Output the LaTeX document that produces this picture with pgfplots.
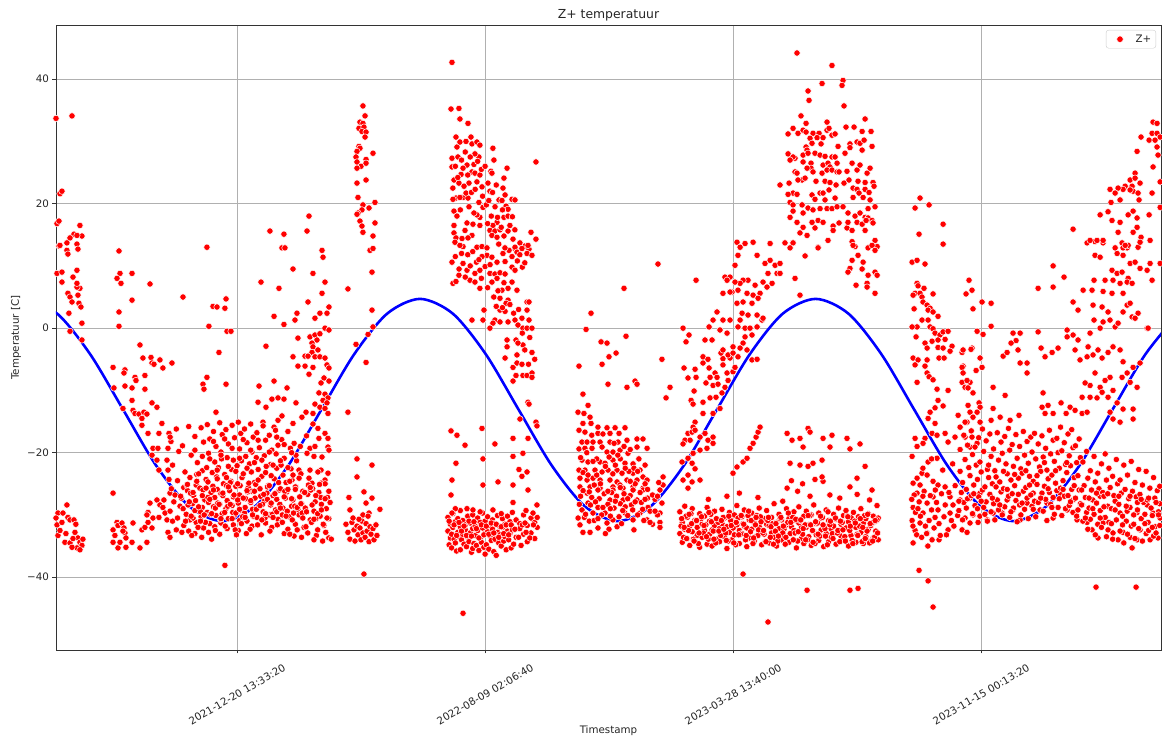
\documentclass[border=0pt]{standalone}
\usepackage{fontspec}
\setmainfont{DejaVu Sans}
\usepackage{pgfplots}
\pgfplotsset{compat=1.18}
\pgfplotsset{
  zp/.style={only marks, mark=*, mark size=3.2pt, mark options={fill=red, draw=white, line width=0.5pt}},
  zplegend/.style={legend image code/.code={\path[draw=none,fill=none] (0cm,-0.1cm) rectangle (0.88cm,0.1cm); \node[draw=white, fill=red, circle, line width=0.5pt, inner sep=0pt, minimum size=6.6pt] at (0.4cm,0cm) {};}}
}
\begin{document}
\begin{tikzpicture}
\begin{axis}[
  width=1105pt, height=625pt, scale only axis,
  xmin=162.54, xmax=171.45, ymin=-51.7, ymax=48.7,
  xtick={164,166,168,170},
  xticklabels={2021-12-20 13:33:20, 2022-08-09 02:06:40, 2023-03-28 13:40:00, 2023-11-15 00:13:20},
  ytick={-40,-20,0,20,40},
  yticklabels={−40,−20,0,20,40},
  tick align=outside, xtick pos=bottom, ytick pos=left,
  major tick length=3.5pt,
  tick style={black!80, line width=0.8pt},
  axis line style={black!80, line width=0.8pt},
  grid=major, major grid style={color=black!31, line width=0.8pt},
  tick label style={font=\fontsize{10.3}{12}\selectfont, text=black!85},
  xticklabel style={yshift=-41pt, rotate=30, anchor=center},
  title={Z+ temperatuur},
  title style={font=\fontsize{12.4}{14}\selectfont, text=black!85, at={(axis description cs:0.5,1)}, anchor=south, yshift=-6pt},
  xlabel={Timestamp},
  xlabel style={font=\fontsize{10.3}{12}\selectfont, text=black!85, at={(axis description cs:0.5,-0.1296)}, anchor=center},
  ylabel={Temperatuur [C]},
  ylabel style={font=\fontsize{10.3}{12}\selectfont, text=black!85, at={(axis description cs:-0.0362,0.5)}, anchor=center},
  legend style={at={(0.9955,0.992)}, anchor=north east, draw=black!20, fill=white, rounded corners=2.5pt,
    font=\fontsize{10.3}{12}\selectfont, text=black!85, inner xsep=2.5pt, inner ysep=2.5pt},
]
\coordinate (sw) at (rel axis cs:0,0);
\coordinate (ne) at (rel axis cs:1,1);
% cluster A
\addplot[zp, zplegend] coordinates {
(162.540,33.7) (162.669,34.1) (162.572,21.6) (162.588,22.0) (162.548,16.8) (162.564,17.2) (162.733,16.5) (162.749,14.8) (162.685,15.1) (162.653,14.5) (162.628,13.7) (162.709,14.9) (162.564,13.2) (162.572,13.3) (162.628,12.5) (162.636,11.9) (162.709,13.5) (162.717,12.7) (162.548,8.8) (162.588,9.0) (162.588,7.4) (162.677,8.2) (162.709,9.3) (162.733,6.4) (162.636,5.6) (162.653,5.0) (162.669,4.2) (162.717,5.3) (162.725,4.0) (162.741,3.4) (162.644,2.4) (162.749,0.8) (162.749,-1.9) (162.653,-0.5) (162.709,6.6) (162.709,7.2)
(162.556,-29.7) (162.596,-29.7) (162.548,-31.6) (162.588,-31.2) (162.628,-28.4) (162.636,-30.4) (162.653,-30.8) (162.685,-30.8) (162.612,-34.4) (162.653,-34.5) (162.693,-32.8) (162.717,-33.7) (162.733,-34.4) (162.749,-34.9) (162.709,-35.3) (162.669,-35.2) (162.733,-35.6) (162.556,-33.3) (162.572,-32.5) (162.620,-33.0) (162.677,-33.8) (162.757,-33.9) (162.540,-30.5) (162.700,-31.5)
};
\addlegendentry{Z+}
% cluster B
\addplot[zp, forget plot] coordinates {
(163.048,12.4) (163.056,8.8) (163.032,8.0) (163.064,7.2) (163.153,8.8) (163.153,4.5) (163.048,2.6) (163.048,0.3) (163.0,-6.3) (163.007,-9.6) (163.096,-6.7) (163.088,-7.2) (163.096,-9.3) (163.080,-12.9) (163.153,-11.6) (163.161,-13.2) (163.177,-7.9) (163.185,-8.4) (163.153,-9.6) (163.217,-2.7) (163.241,-4.8) (163.298,7.1) (163.257,-7.6) (163.257,-9.8) (163.306,-4.7) (163.314,-5.6) (163.330,-5.8) (163.378,-5.1) (163.402,-6.4) (163.475,-5.6) (163.177,-13.7) (163.209,-13.8) (163.233,-14.5) (163.249,-13.5) (163.273,-13.8) (163.314,-12.0) (163.354,-12.7) (163.233,-15.6) (163.282,-16.9) (163.314,-20.4) (163.370,-16.9) (163.394,-15.3) (163.322,-19.3) (163.362,-19.3) (163.354,-21.2) (163.443,-19.3) (163.435,-21.2) (163.451,-16.9) (163.467,-18.2) (163.370,-22.8) (163.451,-24.3) (163.443,-22.8)
(163.0,-26.5) (163.032,-31.2) (163.040,-31.7) (163.0,-32.4) (163.015,-33.3) (163.0,-34.4) (163.040,-35.3) (163.072,-31.3) (163.088,-32.1) (163.096,-32.9) (163.104,-33.7) (163.056,-34.4) (163.104,-35.2) (163.080,-32.6) (163.161,-31.3) (163.153,-34.4) (163.217,-35.3) (163.233,-32.4) (163.257,-32.0) (163.273,-34.4) (163.282,-31.2) (163.314,-32.1) (163.282,-29.6) (163.273,-30.0) (163.298,-28.1) (163.322,-30.5) (163.354,-27.6) (163.378,-28.4) (163.402,-28.8) (163.370,-30.4) (163.419,-29.7) (163.435,-30.8) (163.443,-32.8) (163.459,-33.6) (163.410,-27.6) (163.459,-26.5)
};
% cluster C
\addplot[zp, forget plot] coordinates {
(163.564,5.0) (163.757,13.0) (163.773,0.3) (163.806,3.5) (163.838,3.4) (163.911,4.7) (163.902,3.2) (163.919,-0.5) (163.951,-0.5) (163.854,-3.9) (163.725,-9.0) (163.757,-7.9) (163.733,-9.8) (163.911,-9.0) (163.830,-13.5) (164.193,7.4) (164.338,6.4) (164.362,12.9) (164.386,12.9) (164.451,9.5) (164.612,8.8) (164.685,12.5) (164.693,11.4) (164.685,5.6) (164.709,7.4) (164.572,4.2) (164.483,2.4) (164.467,1.3) (164.298,1.9) (164.378,0.6) (164.628,1.6) (164.668,2.4) (164.725,2.4) (164.741,3.4) (164.709,0.0) (164.741,-0.3) (164.491,-1.6) (164.588,-1.4) (164.628,-1.1) (164.668,-0.9) (164.644,-1.9) (164.604,-2.4) (164.612,-3.0) (164.652,-3.5) (164.604,-3.9) (164.548,-4.5) (164.572,-4.5) (164.628,-4.6) (164.668,-4.6) (164.709,-4.8) (164.451,-4.6) (164.491,-6.1) (164.548,-6.1) (164.612,-6.3) (164.725,-5.9) (164.741,-6.4) (164.233,-2.9) (164.298,-8.5) (164.177,-9.3) (164.403,-9.6) (164.580,-7.4) (164.701,-8.0) (164.741,-8.5) (164.677,-8.8) (164.660,-10.4) (164.709,-10.6) (164.733,-11.2) (164.693,-11.6) (164.725,-12.0) (164.628,-12.2) (164.668,-12.7) (164.709,-12.9) (164.733,-13.7) (164.612,-13.7) (164.556,-13.5) (164.475,-12.0) (164.378,-11.4) (164.330,-11.2) (164.281,-11.4) (164.233,-12.7) (164.169,-11.9) (164.330,-14.8) (164.362,-14.1) (164.209,-15.1) (164.298,-15.9) (164.451,-15.3) (164.523,-14.3) (164.612,-15.4) (164.652,-16.1) (164.709,-16.9) (164.733,-17.7) (164.660,-17.7) (164.588,-19.3) (164.628,-19.0) (164.733,-19.1) (164.741,-19.6) (164.685,-20.7) (164.620,-20.6) (164.564,-20.1) (164.677,-22.8) (164.733,-23.3) (164.709,-24.4) (164.652,-23.1) (164.588,-22.8) (164.604,-24.9) (164.677,-24.9) (164.499,-22.8) (164.443,-24.4) (164.451,-23.6) (164.475,-25.5) (164.265,15.6) (164.378,15.1) (164.564,15.6) (164.580,18.0) (163.902,-38.1)
(163.46,-17.5) (163.48,-22.0) (163.47,-25.8) (163.49,-27.9) (163.46,-29.4) (163.48,-31.0)
(163.51,-16.2) (163.53,-19.8) (163.52,-24.5) (163.50,-26.8) (163.54,-28.6) (163.52,-30.5) (163.51,-32.4)
(163.56,-18.9) (163.58,-23.1) (163.57,-25.6) (163.55,-27.3) (163.59,-29.9) (163.57,-31.7)
(163.61,-15.8) (163.63,-20.4) (163.62,-24.0) (163.60,-26.1) (163.64,-28.2) (163.62,-30.8) (163.61,-32.6)
(163.66,-17.4) (163.68,-21.6) (163.67,-25.2) (163.65,-26.9) (163.69,-29.1) (163.67,-31.2) (163.66,-33.0)
(163.71,-16.0) (163.73,-18.3) (163.72,-22.9) (163.70,-25.7) (163.74,-27.6) (163.72,-28.8) (163.71,-30.3) (163.73,-32.1)
(163.76,-15.5) (163.78,-17.8) (163.77,-20.1) (163.75,-24.3) (163.79,-26.4) (163.77,-28.0) (163.76,-29.6) (163.78,-31.4) (163.77,-32.8)
(163.81,-16.6) (163.83,-19.0) (163.82,-21.5) (163.80,-23.2) (163.84,-25.9) (163.82,-27.2) (163.81,-28.7) (163.83,-30.1) (163.82,-31.9)
(163.86,-15.2) (163.88,-17.1) (163.87,-19.9) (163.85,-22.4) (163.89,-25.0) (163.87,-26.6) (163.86,-28.3) (163.88,-29.8) (163.87,-31.3) (163.86,-33.1)
(163.91,-16.3) (163.93,-18.6) (163.92,-20.8) (163.90,-23.5) (163.94,-26.1) (163.92,-27.7) (163.91,-29.0) (163.93,-30.6) (163.92,-32.2)
(163.96,-15.6) (163.98,-17.6) (163.97,-21.2) (163.95,-24.6) (163.99,-25.4) (163.97,-27.1) (163.96,-28.5) (163.98,-30.0) (163.97,-31.6)
(164.01,-15.1) (164.03,-16.9) (164.02,-19.4) (164.00,-22.1) (164.04,-24.0) (164.02,-26.8) (164.01,-28.1) (164.03,-29.3) (164.02,-30.9) (164.01,-32.5)
(164.06,-16.2) (164.08,-18.4) (164.07,-20.6) (164.05,-23.4) (164.09,-25.6) (164.07,-27.4) (164.06,-29.7) (164.08,-31.0)
(164.11,-15.4) (164.13,-17.5) (164.12,-19.9) (164.10,-21.8) (164.14,-24.8) (164.12,-26.2) (164.11,-28.0) (164.13,-30.2) (164.12,-31.8)
(164.16,-16.8) (164.18,-19.2) (164.17,-22.7) (164.15,-25.1) (164.19,-27.0) (164.17,-28.8) (164.16,-30.4)
(164.21,-15.7) (164.23,-18.0) (164.22,-20.5) (164.20,-23.8) (164.24,-26.5) (164.22,-27.8) (164.21,-29.5) (164.23,-31.3)
(164.26,-17.2) (164.28,-19.6) (164.27,-21.9) (164.25,-25.3) (164.29,-26.9) (164.27,-28.4) (164.26,-30.0) (164.28,-32.0)
(164.31,-16.4) (164.33,-18.8) (164.32,-22.5) (164.30,-24.2) (164.34,-26.0) (164.32,-27.5) (164.31,-29.2) (164.33,-30.7)
(164.36,-17.9) (164.38,-20.9) (164.37,-23.6) (164.35,-25.8) (164.39,-27.3) (164.37,-28.9) (164.36,-31.1) (164.38,-33.0)
(164.41,-16.6) (164.43,-19.3) (164.42,-24.6) (164.40,-26.3) (164.44,-28.6) (164.42,-30.3) (164.41,-32.3)
(164.46,-18.5) (164.48,-21.3) (164.47,-25.5) (164.45,-27.6) (164.49,-29.1) (164.47,-31.5) (164.46,-33.4)
(164.51,-19.0) (164.53,-26.2) (164.52,-28.2) (164.50,-30.0) (164.54,-32.0) (164.52,-33.6)
(164.56,-17.3) (164.58,-24.1) (164.57,-26.7) (164.55,-28.9) (164.59,-30.8) (164.57,-32.9)
(164.61,-25.8) (164.63,-27.9) (164.62,-29.4) (164.60,-31.2) (164.64,-33.3) (164.62,-34.0)
(164.66,-26.4) (164.68,-28.3) (164.67,-30.2) (164.65,-32.4) (164.69,-34.2)
(164.71,-25.0) (164.73,-27.2) (164.72,-29.0) (164.70,-31.7) (164.74,-33.7)
(164.75,-28.0) (164.74,-30.6) (164.76,-33.9)
(163.545,-27.0) (163.565,-29.0) (163.585,-31.0) (163.605,-28.4) (163.625,-26.5) (163.645,-30.5) (163.665,-27.7) (163.685,-32.0) (163.705,-29.5) (163.725,-26.0) (163.745,-31.2) (163.765,-27.2) (163.785,-29.9) (163.805,-25.4) (163.825,-32.5) (163.845,-28.1) (163.865,-30.7) (163.885,-26.9) (163.905,-31.8) (163.925,-28.6) (163.945,-24.8) (163.965,-29.6) (163.985,-32.4) (164.005,-27.6) (164.025,-25.3) (164.045,-30.3) (164.065,-28.8) (164.085,-26.3) (164.105,-32.3) (164.125,-29.1) (164.145,-27.3) (164.165,-31.6) (164.185,-25.8) (164.205,-28.3) (164.225,-30.5) (164.245,-27.5) (164.265,-32.6) (164.285,-29.9) (164.305,-26.6) (164.325,-31.6) (164.345,-28.3) (164.365,-30.0) (164.385,-26.2) (164.405,-29.4) (164.425,-33.1) (164.445,-30.8) (164.465,-28.6) (164.485,-32.4) (164.505,-27.1) (164.525,-29.7)
(163.555,-32.8) (163.595,-25.2) (163.635,-33.3) (163.675,-23.5) (163.715,-33.6) (163.755,-22.4) (163.795,-33.9) (163.835,-23.9) (163.875,-21.0) (163.915,-24.0) (163.955,-22.7) (163.995,-33.2) (164.035,-21.3) (164.075,-33.0) (164.115,-23.1) (164.155,-20.8) (164.195,-33.2) (164.235,-22.2) (164.275,-23.7) (164.315,-20.2) (164.355,-22.0) (164.395,-24.8) (164.435,-22.6) (164.475,-20.4) (164.515,-23.4) (164.555,-31.9) (164.595,-26.0) (164.635,-30.6) (164.675,-27.2) (164.715,-32.8)
(163.600,-25.1) (163.615,-27.9) (163.630,-30.2) (163.645,-26.4) (163.660,-29.3) (163.675,-24.6) (163.690,-28.7) (163.705,-31.0) (163.720,-26.9) (163.735,-30.0) (163.750,-25.7)
(163.765,-24.7) (163.780,-27.5) (163.795,-29.8) (163.810,-26.0) (163.825,-28.9) (163.840,-24.2) (163.855,-28.3) (163.870,-30.6) (163.885,-26.5) (163.900,-29.6) (163.915,-25.3)
(163.930,-25.5) (163.945,-28.3) (163.960,-30.6) (163.975,-26.8) (163.990,-29.7) (164.005,-25.0) (164.020,-29.1) (164.035,-31.4) (164.050,-27.3) (164.065,-30.4) (164.080,-26.1)
(164.095,-24.9) (164.110,-27.7) (164.125,-30.0) (164.140,-26.2) (164.155,-29.1) (164.170,-24.4) (164.185,-28.5) (164.200,-30.8) (164.215,-26.7) (164.230,-29.8) (164.245,-25.5)
(164.260,-25.3) (164.275,-28.1) (164.290,-30.4) (164.305,-26.6) (164.320,-29.5) (164.335,-24.8) (164.350,-28.9) (164.365,-31.2) (164.380,-27.1) (164.395,-30.2) (164.410,-25.9)
(164.425,-24.6) (164.440,-27.4) (164.455,-29.7) (164.470,-25.9) (164.485,-28.8) (164.500,-24.1) (164.515,-28.2) (164.530,-30.5) (164.545,-26.4) (164.560,-29.5) (164.575,-25.2)
(164.590,-25.6) (164.605,-28.4) (164.620,-30.7) (164.635,-26.9) (164.650,-29.8) (164.665,-25.1) (164.680,-29.2) (164.695,-31.5) (164.710,-27.4) (164.725,-30.5) (164.740,-26.2)
(163.78,-21.0) (163.81,-18.2) (163.84,-22.8) (163.87,-20.4) (163.90,-17.8) (163.93,-22.2) (163.96,-19.3) (163.99,-23.0) (164.02,-20.9) (164.05,-17.9) (164.08,-22.5) (164.11,-19.6) (164.14,-21.6) (164.17,-18.0) (164.20,-21.2) (164.23,-23.2) (164.26,-19.9) (164.29,-22.0) (164.32,-17.5) (164.35,-21.3) (164.38,-18.7) (164.41,-22.4) (164.44,-20.0) (163.72,-20.6) (163.69,-23.4) (163.66,-19.6)
};
% cluster D
\addplot[zp, forget plot] coordinates {
(165.015,35.7) (165.032,34.1) (164.991,33.1) (165.015,32.9) (164.983,32.1) (165.023,32.3) (165.007,31.6) (165.040,31.5) (165.032,30.7) (164.983,29.2) (164.991,28.9) (164.967,28.4) (164.959,27.5) (164.967,26.7) (164.999,26.0) (164.967,25.7) (165.040,27.1) (165.040,26.5) (165.096,28.1) (165.040,23.8) (164.967,23.3) (164.975,21.0) (165.015,19.8) (165.007,19.0) (164.975,18.5) (164.967,18.3) (165.112,20.2) (165.064,19.3) (164.991,17.2) (165.007,16.4) (165.015,15.4) (165.112,16.9) (165.096,14.8) (165.072,12.5) (165.096,12.8) (165.088,9.0) (165.088,2.9) (165.096,0.2) (165.056,-1.0) (164.959,-2.6) (165.040,-5.5) (164.894,6.3) (164.894,-13.5) (164.967,-21.0) (165.088,-22.0) (164.967,-23.9) (165.023,-26.3) (165.088,-27.3) (164.902,-27.2) (164.910,-29.2) (165.015,-30.0) (165.064,-29.7) (165.152,-29.1) (165.040,-28.1) (165.023,-39.5)
(164.878,-31.5) (164.894,-32.8) (164.910,-33.9) (164.926,-31.2) (164.943,-32.4) (164.951,-34.2) (164.967,-31.8) (164.975,-33.2) (164.991,-32.1) (164.999,-34.0) (165.007,-31.0) (165.015,-32.9) (165.032,-33.6) (165.040,-31.4) (165.048,-32.6) (165.064,-34.3) (165.072,-31.9) (165.080,-33.1) (165.096,-32.2) (165.104,-34.0) (165.120,-31.6) (165.128,-33.3) (164.983,-30.7) (164.935,-30.5) (165.056,-30.2)
};
% cluster E
\addplot[zp, forget plot] coordinates {
(165.733,42.7) (165.725,35.2) (165.789,35.3) (165.797,33.6) (165.862,32.9) (165.765,30.7) (165.733,27.3) (165.733,25.9) (165.749,23.8) (165.789,23.3) (165.765,20.9) (165.741,20.7) (165.822,21.0) (165.862,20.9) (165.781,27.5) (165.773,29.1) (165.797,29.9) (165.846,30.0) (165.886,30.7) (165.894,29.6) (165.934,29.9) (165.958,29.4) (165.950,27.5) (165.918,28.0) (165.910,26.3) (165.854,26.2) (165.822,25.7) (165.806,24.7) (165.894,25.1) (165.918,24.9) (165.958,24.6) (165.870,23.3) (165.934,23.5) (165.975,22.7) (165.846,21.7) (165.797,21.0) (165.749,18.8) (165.773,18.0) (165.749,16.5) (165.749,15.3) (165.765,14.5) (165.814,14.4) (165.838,15.7) (165.854,16.9) (165.902,16.7) (165.958,17.8) (165.983,19.4) (165.934,18.2) (165.958,16.5) (165.894,14.9) (165.862,14.5) (165.934,13.0) (165.975,13.1) (165.822,13.1) (166.063,28.9) (166.071,27.0) (166.047,25.2) (166.055,24.9) (166.023,23.3) (166.039,22.0) (166.177,25.7) (166.152,24.1) (166.144,22.5) (166.161,21.4) (166.112,20.6) (166.136,20.5) (166.217,20.7) (166.241,20.6) (166.169,19.6) (166.185,19.1) (166.152,17.8) (166.185,18.0) (166.096,17.0) (166.063,16.5) (166.039,15.7) (166.079,15.6) (166.120,15.8) (166.055,14.9) (166.096,14.6) (166.152,14.8) (166.185,15.6) (166.225,14.3) (166.281,13.7) (166.322,13.2) (166.370,15.4) (166.410,14.3) (166.410,26.7) (166.015,12.9) (166.241,12.8)
(165.733,10.6) (165.757,13.8) (165.797,13.3) (165.741,7.2) (165.765,7.5) (165.789,8.5) (165.822,10.4) (165.854,9.3) (165.878,7.7) (165.918,7.4) (165.918,8.8) (165.958,9.3) (165.894,1.3) (165.958,6.4) (165.983,1.3) (165.991,2.9) (166.015,11.7) (165.975,11.5) (166.055,11.4) (166.096,10.6) (166.161,10.7) (166.144,12.0) (166.193,12.5) (166.217,11.5) (166.241,13.0) (166.257,12.2) (166.297,12.8) (166.354,12.7) (166.346,13.3) (166.338,12.0) (166.378,11.7) (166.039,8.8) (166.055,7.4) (166.079,8.7) (166.120,8.9) (166.161,8.7) (166.096,8.0) (166.152,7.3) (166.136,6.1) (166.104,6.0) (166.185,6.4) (166.217,7.4) (166.217,9.8) (166.241,9.3) (166.257,6.1) (166.185,4.5) (166.169,4.0) (166.120,2.9) (166.161,2.7) (166.079,1.3) (166.063,0.8) (166.039,0.0) (166.120,1.0) (166.185,1.0) (166.241,1.3) (166.297,1.6) (166.265,0.5) (166.305,0.0) (166.338,0.0) (166.378,0.0) (166.338,4.2) (166.354,4.2) (166.338,2.9) (166.354,1.3) (166.249,-1.9) (166.305,-2.7) (166.265,-2.4) (166.378,-3.9) (166.177,-1.9) (166.177,-3.0) (166.257,-4.3) (166.161,-4.8) (166.225,-6.3) (166.257,-5.6) (166.297,-5.8) (166.249,-7.6) (166.305,-7.6) (166.338,-7.6) (166.378,-7.2) (166.225,-8.5) (166.378,-7.9) (166.346,-11.9) (166.354,-12.2) (166.281,-14.6) (166.410,-15.1) (166.418,-15.7) (166.346,-17.7) (166.305,-20.1) (166.225,-17.7) (166.225,-20.6) (166.273,-22.7) (166.297,-23.8) (166.338,-23.1)
(165.74,22.5) (165.76,26.0) (165.78,24.2) (165.80,19.0) (165.81,27.0) (165.83,22.8) (165.84,28.3) (165.86,24.6) (165.87,19.5) (165.88,27.5) (165.89,21.8) (165.91,18.5) (165.92,22.3) (165.94,26.8) (165.95,20.2) (165.97,25.5) (165.98,21.2) (166.00,26.0) (166.01,19.8) (166.02,16.8) (166.03,20.5) (166.05,18.0) (166.06,21.8) (166.08,19.5) (166.09,23.0) (166.10,17.8) (166.11,13.5) (166.13,16.2) (166.14,19.0) (166.16,12.9) (166.20,16.5) (166.22,17.9) (166.24,15.8) (166.26,10.8) (166.28,11.8) (166.30,9.8) (166.32,10.5) (165.76,11.5) (165.79,9.5) (165.81,12.0) (165.84,8.2) (165.86,11.8) (165.88,10.0) (165.90,12.3) (165.93,10.6) (165.95,11.0) (165.97,8.0) (166.00,9.9) (166.02,6.5) (166.04,10.2) (166.07,5.0) (166.09,3.5) (166.12,4.8) (166.14,3.3) (166.20,3.8) (166.23,2.4) (166.27,3.0) (166.30,-0.8) (166.32,-3.5) (166.36,-1.5) (166.40,-5.0) (166.35,-5.8)
(165.70,-30.4) (165.70,-32.6) (165.71,-34.8) (165.72,-31.5) (165.72,-33.7) (165.73,-35.3) (165.74,-29.8) (165.74,-32.0) (165.75,-33.9) (165.76,-31.1) (165.76,-34.5) (165.77,-35.8) (165.78,-30.6) (165.78,-32.8) (165.79,-33.5) (165.80,-29.3) (165.80,-31.9) (165.81,-34.0) (165.80,-35.6) (165.82,-30.9) (165.82,-33.1) (165.83,-34.7) (165.84,-31.6) (165.84,-32.4) (165.85,-35.1) (165.86,-30.2) (165.86,-33.6) (165.87,-34.3) (165.88,-31.3) (165.88,-32.9) (165.89,-36.0) (165.90,-30.0) (165.90,-32.2) (165.91,-34.6) (165.90,-35.4) (165.92,-31.8) (165.92,-33.3) (165.93,-34.9) (165.94,-30.5) (165.94,-32.5) (165.95,-35.7) (165.96,-31.2) (165.96,-33.8) (165.97,-34.4) (165.98,-29.7) (165.98,-32.1) (165.99,-35.2) (166.00,-31.0) (166.00,-33.0) (166.01,-34.8) (166.00,-36.3) (166.02,-30.3) (166.02,-32.7) (166.03,-35.5) (166.04,-31.7) (166.04,-33.4) (166.05,-34.1) (166.06,-30.8) (166.06,-32.3) (166.07,-35.9) (166.08,-31.4) (166.08,-33.9) (166.09,-36.5) (166.10,-30.1) (166.10,-32.8) (166.11,-34.5) (166.12,-31.9) (166.12,-33.2) (166.13,-35.0) (166.14,-30.6) (166.14,-32.0) (166.15,-34.2) (166.16,-31.5) (166.16,-33.5) (166.17,-35.6) (166.18,-30.2) (166.18,-32.6) (166.19,-34.0) (166.20,-31.1) (166.20,-33.0) (166.21,-35.3) (166.22,-29.6) (166.22,-32.4) (166.23,-34.7) (166.25,-30.8) (166.25,-33.6) (166.28,-31.4) (166.28,-32.2) (166.29,-34.9) (166.31,-30.0) (166.31,-33.1) (166.34,-31.7) (166.34,-34.3) (166.37,-30.5) (166.37,-32.9) (166.40,-31.2) (166.40,-33.8) (166.42,-30.4) (166.42,-32.0)
(165.71,-31.0) (165.73,-33.1) (165.75,-31.6) (165.77,-33.3) (165.79,-31.2) (165.81,-32.6) (165.83,-31.8) (165.85,-33.3) (165.87,-31.0) (165.89,-33.4) (165.91,-31.1) (165.93,-32.2) (165.95,-33.7) (165.97,-31.6) (165.99,-33.2) (166.01,-31.8) (166.03,-33.1) (166.05,-31.3) (166.07,-32.9) (166.09,-31.5) (166.11,-33.6) (166.13,-31.9) (166.15,-33.0) (166.17,-31.6) (166.19,-33.2) (166.21,-31.6) (166.24,-32.3) (166.27,-33.6) (166.30,-31.6) (166.33,-32.8) (166.36,-33.7) (166.39,-31.6) (165.76,-29.0) (165.96,-29.5) (166.13,-29.8) (166.33,-29.3)
(166.346,-26.0) (166.225,-28.0) (166.063,-29.2) (166.418,-28.4) (165.733,-29.7) (165.854,-29.0) (165.902,-29.2) (166.322,-31.3) (166.386,-29.7) (165.733,-24.4) (165.983,-25.2) (166.104,-24.7) (166.225,-25.2) (165.725,-26.8) (165.725,-16.5) (165.773,-17.2) (165.838,-18.8) (165.975,-16.1) (166.079,-18.6) (165.765,-21.7) (165.983,-21.0) (165.822,-45.8)
};
% cluster F
\addplot[zp, forget plot] coordinates {
(166.757,-6.1) (166.854,2.4) (166.814,-0.2) (166.935,-2.2) (166.983,-2.4) (166.999,-4.6) (167.056,-4.0) (166.943,-5.8) (166.991,-9.0) (167.144,-9.5) (167.209,-8.5) (167.225,-9.0) (167.136,-1.3) (167.120,6.4) (167.394,10.3) (167.426,-5.0) (167.491,-9.5) (167.459,-11.2)
(166.789,-10.6) (166.830,-12.4) (166.749,-13.5) (166.797,-13.7) (166.846,-14.3) (166.854,-15.3) (166.789,-15.3) (166.757,-16.4) (166.805,-16.7) (166.910,-15.9) (166.983,-16.0) (167.048,-16.0) (167.128,-16.0) (166.910,-16.9) (167.007,-16.9) (167.080,-16.9) (166.781,-18.3) (166.822,-18.3) (166.870,-18.3) (166.927,-18.3) (167.007,-18.3) (167.072,-18.3) (167.144,-18.0) (167.225,-17.8) (167.273,-17.8) (167.225,-19.1) (167.306,-19.3) (166.757,-19.4) (166.805,-19.3) (166.862,-19.3) (166.943,-19.1) (166.983,-19.9) (167.031,-19.9) (167.088,-19.6) (167.152,-20.1) (166.781,-21.2) (166.830,-21.5) (166.927,-21.5) (166.967,-21.7) (167.031,-21.2) (167.128,-21.7) (167.193,-21.8) (167.249,-22.8) (167.290,-22.0) (166.757,-22.8) (166.805,-22.8) (166.886,-22.8) (166.943,-23.1) (166.991,-22.8) (167.064,-22.8) (167.104,-23.3) (167.193,-23.3) (167.273,-23.9) (166.765,-24.1) (166.822,-24.4) (166.870,-24.1) (166.927,-24.4) (167.007,-24.4) (167.064,-24.7) (167.144,-24.4) (167.225,-24.4) (167.306,-24.4) (167.435,-23.9) (167.435,-25.2) (166.765,-25.5) (166.846,-25.5) (166.927,-25.7) (167.031,-25.5) (167.112,-25.7) (167.193,-25.5) (167.273,-25.7)
(166.781,-29.2) (166.765,-31.6) (166.789,-32.8) (166.846,-32.8) (166.830,-28.1) (166.870,-29.7) (166.822,-26.5) (166.910,-32.1) (166.983,-31.3) (166.967,-29.7) (167.007,-27.6) (167.031,-26.0) (167.064,-31.9) (167.128,-29.7) (167.112,-27.6) (167.193,-26.0) (167.225,-27.6) (167.249,-29.7) (167.306,-30.8) (167.314,-28.8) (167.273,-26.0) (167.410,-26.0) (167.410,-29.7) (167.410,-31.2) (167.410,-32.0) (167.426,-28.1) (166.910,-28.8) (167.031,-30.8) (167.193,-30.8) (167.088,-25.2) (166.910,-26.0) (166.999,-32.3)
(166.77,-27.0) (166.80,-30.4) (166.84,-31.0) (166.86,-27.2) (166.88,-30.9) (166.90,-23.6) (166.92,-27.4) (166.94,-30.0) (166.96,-26.6) (166.97,-33.0) (166.99,-28.3) (167.01,-30.2) (167.02,-26.4) (167.04,-28.9) (167.05,-22.0) (167.06,-27.0) (167.08,-30.3) (167.09,-28.2) (167.10,-31.4) (167.12,-26.6) (167.13,-28.7) (167.15,-30.1) (167.16,-23.0) (167.17,-26.9) (167.18,-28.4) (167.20,-32.4) (167.21,-25.0) (167.23,-30.0) (167.24,-21.0) (167.26,-28.0) (167.28,-30.9) (167.29,-25.0) (167.31,-27.3) (167.33,-29.4) (167.35,-31.5) (167.37,-27.5) (167.39,-30.0) (167.40,-24.8) (166.82,-20.0) (166.86,-17.2) (166.90,-21.0) (166.95,-17.0) (167.00,-20.7) (167.04,-18.5) (167.09,-21.0) (167.12,-19.0) (167.17,-19.5) (167.20,-22.5) (166.76,-28.3) (166.79,-23.2) (166.84,-26.3) (166.88,-25.2) (166.75,-30.5)
(166.77,-20.8) (166.79,-26.1) (166.81,-29.9) (166.83,-23.6) (166.85,-28.4) (166.87,-21.4) (166.89,-27.9) (166.91,-30.6) (166.93,-25.0) (166.95,-28.8) (166.97,-22.2) (166.99,-26.2) (167.01,-29.0) (167.03,-23.4) (167.05,-27.8) (167.07,-20.4) (167.09,-25.6) (167.11,-29.3) (167.13,-22.5) (167.15,-27.4) (167.17,-24.6) (167.19,-29.2) (167.21,-27.9) (167.23,-23.0) (167.25,-26.4) (167.27,-29.1) (167.29,-27.5) (167.31,-25.9) (167.33,-31.2) (167.35,-26.8) (167.37,-29.4) (167.39,-27.0)
};
% cluster G (spring 2023)
\addplot[zp, forget plot] coordinates {
(167.701,7.7) (167.596,0.0) (167.620,-2.2) (167.644,-1.1) (167.604,-6.4) (167.636,-8.0) (167.693,-6.6) (167.701,-7.9) (167.757,-5.6) (167.806,-6.4) (167.854,-7.2) (167.814,-7.9) (167.870,-7.9) (167.781,-8.8) (167.838,-9.2) (167.878,-9.0) (167.685,-10.1) (167.661,-11.6) (167.677,-12.2) (167.757,-11.9) (167.814,-11.2) (167.862,-11.1) (167.910,-10.4) (167.934,-9.5) (167.959,-8.4) (167.918,-5.9) (167.975,-4.8) (167.918,-4.9) (167.902,-4.0) (167.918,-3.5) (167.959,-4.3) (167.951,-7.2) (167.999,-7.0) (168.015,-6.3) (167.894,-12.9) (167.838,-13.7) (167.757,-13.7) (167.693,-15.1) (167.677,-15.9) (167.636,-16.9) (167.612,-18.0) (167.596,-18.6) (167.653,-18.0) (167.669,-16.7) (167.693,-16.4) (167.733,-17.5) (167.773,-16.9) (167.797,-18.0) (167.838,-17.5) (167.838,-18.5) (167.789,-19.3) (167.733,-19.6) (167.677,-20.1) (167.636,-20.9) (167.588,-21.5) (167.669,-21.7) (167.693,-22.6) (167.636,-23.6) (167.596,-24.4) (167.669,-24.7) (167.733,-24.4) (167.636,-25.7) (168.080,-21.5) (168.112,-20.9) (168.136,-19.3) (168.161,-18.5) (168.185,-17.5) (168.201,-16.7) (168.217,-15.9) (168.031,-22.3) (167.999,-23.3)
(168.031,13.8) (168.056,13.0) (168.039,11.7) (168.015,10.1) (168.096,13.6) (168.161,13.8) (168.298,13.6) (168.193,11.7) (168.257,10.4) (168.298,10.9) (168.338,10.1) (168.354,8.8) (168.281,8.8) (168.241,7.4) (168.177,6.9) (168.120,7.7) (168.080,7.7) (168.056,7.2) (168.015,7.4) (167.991,5.8) (167.934,8.2) (167.975,8.2) (167.951,7.7) (167.918,5.6) (167.975,5.8) (168.039,6.1) (168.112,5.6) (168.161,5.3) (168.217,5.6) (168.273,6.6) (168.314,7.2) (168.031,4.0) (168.080,4.2) (168.152,4.0) (168.201,4.8) (167.870,2.6) (167.918,1.3) (167.975,1.3) (168.056,1.3) (168.039,0.2) (168.096,0.0) (168.136,0.0) (168.193,0.2) (168.233,1.3) (168.072,2.4) (168.120,2.1) (168.193,2.1) (168.241,1.6) (168.096,-1.4) (168.152,-1.1) (168.080,-2.4) (168.056,-3.2) (168.112,-3.5) (167.999,-4.0) (168.039,-4.6) (167.999,-3.0) (167.951,-0.8) (167.894,-0.3) (167.838,1.3) (167.806,0.2) (167.773,-1.9) (167.830,-1.9) (167.757,-4.6) (167.797,-5.0) (168.152,-5.1) (168.193,-5.0)
(168.418,13.7) (168.483,13.7) (168.378,10.4) (168.378,8.8) (168.499,8.0) (168.539,5.3) (168.580,11.6) (168.685,13.0) (168.765,14.1) (168.435,-16.9) (168.475,-18.0) (168.539,-17.7) (168.564,-19.1) (168.604,-16.1) (168.620,-16.7) (168.725,-17.7) (168.797,-17.2) (168.781,-19.1) (168.918,-17.7) (168.942,-19.4) (169.023,-18.6) (168.459,-21.7) (168.539,-22.0) (168.604,-22.2) (168.644,-21.7) (168.717,-21.2) (168.660,-24.3) (168.725,-24.6) (168.717,-23.9) (169.064,-22.2) (168.999,-24.1) (168.942,-25.5) (168.435,-25.7)
};
% cluster H (summer 2023 high)
\addplot[zp, forget plot] coordinates {
(168.515,44.2) (168.797,42.2) (168.886,39.8) (168.878,39.0) (168.717,39.3) (168.604,38.1) (168.612,36.6) (168.894,35.7) (168.547,34.1) (168.588,32.9) (168.757,33.1) (169.064,33.6) (168.910,32.3) (168.975,32.3) (169.040,31.6) (169.112,31.6) (168.483,32.1) (168.443,31.2) (168.523,31.3) (168.564,31.8) (168.588,31.5) (168.644,31.3) (168.693,31.3) (168.757,31.8) (168.773,32.1) (168.797,31.0) (168.822,31.2) (168.620,30.5) (168.677,30.6) (168.725,30.6) (168.636,29.7) (168.709,29.6) (168.846,29.2) (168.942,29.6) (168.999,29.9) (169.023,29.7) (169.056,30.2) (169.120,29.2) (169.040,28.6) (168.588,29.1) (168.596,28.6) (168.443,28.0) (168.499,27.3) (168.483,27.5) (168.564,27.8) (168.604,28.1) (168.660,28.1) (168.701,27.8) (168.741,27.6) (168.797,27.5) (168.822,27.5) (168.902,28.1) (168.942,29.0) (168.459,27.0) (168.564,26.7) (168.628,26.5) (168.725,26.2) (168.765,26.5) (168.838,26.5) (168.781,25.9) (168.628,25.7) (168.596,25.7) (168.499,25.1) (168.515,24.9) (168.644,25.1) (168.717,24.9) (168.757,25.4) (168.797,25.4) (168.838,25.1) (168.854,25.1) (168.918,25.2) (168.999,25.4) (169.080,24.9) (169.104,25.7) (168.959,26.5) (169.023,26.2) (168.556,23.8) (168.523,23.8) (168.580,24.1) (168.668,23.6) (168.741,23.6) (168.781,23.4) (168.451,23.3) (168.894,23.3) (168.934,23.8) (169.007,23.6) (169.064,23.4) (169.128,23.4) (169.136,22.8) (168.830,23.0) (168.773,22.2) (168.701,21.7) (168.636,21.4) (168.725,21.7) (168.483,21.7) (168.515,21.5) (168.443,21.5) (168.967,22.5) (168.999,22.3) (169.015,21.7) (169.064,22.3) (169.096,21.8) (168.822,20.9) (168.660,20.7) (168.741,20.6) (168.967,21.0) (169.048,21.0) (169.104,20.6) (168.459,20.2) (168.483,19.8) (168.556,19.8) (168.604,19.3) (168.644,19.0) (168.701,19.2) (168.757,19.2) (168.797,19.2) (168.838,19.5) (168.886,19.5) (168.926,18.5) (168.983,18.0) (169.023,18.5) (169.064,17.8) (169.088,17.7) (169.120,17.3) (169.088,19.2) (169.144,19.5) (168.483,18.8) (168.564,18.5) (168.459,17.8) (168.515,17.0) (168.564,16.2) (168.636,17.0) (168.660,16.1) (168.685,17.3) (168.725,17.0) (168.806,16.4) (168.854,16.9) (168.918,16.1) (168.926,17.0) (168.999,17.0) (169.040,16.7) (169.064,15.7) (169.128,16.9) (169.072,17.3) (168.959,15.7) (168.539,15.3) (168.596,14.9) (168.483,13.7) (168.459,12.9) (168.685,12.9) (168.806,15.7) (168.959,13.9) (168.983,13.1) (169.144,14.1) (169.161,13.1) (169.507,20.9) (169.467,19.3) (169.580,19.8) (169.499,15.1) (169.693,16.7) (169.693,13.5) (168.378,23.0)
(168.967,13.3) (169.007,11.7) (168.959,10.9) (169.048,10.6) (169.088,12.9) (169.120,13.3) (169.144,12.5) (168.942,9.6) (169.040,9.5) (169.088,8.5) (169.144,9.0) (169.161,8.5) (169.080,7.2) (168.991,6.9) (169.080,6.6) (169.144,5.6) (168.926,9.0)
};
% cluster I (summer 2023 low band)
\addplot[zp, forget plot] coordinates {
(167.57,-29.5) (167.57,-33.0) (167.59,-31.2) (167.59,-34.4) (167.61,-28.6) (167.61,-32.3) (167.63,-30.4) (167.63,-33.8) (167.65,-31.8) (167.65,-34.9) (167.67,-29.0) (167.67,-32.7) (167.69,-30.9) (167.69,-34.1) (167.71,-32.0) (167.71,-33.3) (167.73,-29.8) (167.73,-35.2) (167.75,-31.5) (167.75,-33.6) (167.77,-30.2) (167.77,-32.5) (167.79,-28.8) (167.79,-34.7) (167.81,-31.0) (167.81,-33.1) (167.83,-32.4) (167.83,-35.0) (167.85,-29.4) (167.85,-31.7) (167.87,-30.7) (167.87,-33.9) (167.89,-32.2) (167.89,-34.3) (167.91,-29.1) (167.91,-31.4) (167.93,-30.5) (167.93,-33.5) (167.95,-31.9) (167.95,-35.4) (167.97,-29.6) (167.97,-32.8) (167.99,-31.1) (167.99,-34.0) (168.01,-30.0) (168.01,-33.2) (168.03,-28.5) (168.03,-31.6) (168.05,-32.5) (168.05,-34.6) (168.07,-30.3) (168.07,-33.0) (168.09,-29.2) (168.09,-31.8) (168.11,-32.1) (168.11,-35.1) (168.13,-30.8) (168.13,-33.7) (168.15,-29.7) (168.15,-32.3) (168.17,-31.3) (168.17,-34.2) (168.19,-30.1) (168.19,-33.4) (168.21,-28.9) (168.21,-31.9) (168.23,-32.6) (168.23,-34.8) (168.25,-30.6) (168.25,-33.1) (168.27,-29.3) (168.27,-31.5) (168.29,-31.7) (168.29,-34.5) (168.31,-30.4) (168.31,-32.9) (168.33,-28.2) (168.33,-33.6) (168.35,-31.2) (168.35,-35.0) (168.37,-29.9) (168.37,-32.2) (168.39,-30.8) (168.39,-34.0) (168.41,-32.3) (168.41,-33.3) (168.43,-29.0) (168.43,-31.6) (168.45,-30.6) (168.45,-34.4) (168.47,-31.9) (168.47,-33.0) (168.49,-29.5) (168.49,-32.5) (168.51,-30.9) (168.51,-35.3) (168.53,-28.7) (168.53,-31.3) (168.55,-32.1) (168.55,-33.8) (168.57,-30.2) (168.57,-34.6) (168.59,-29.4) (168.59,-32.0) (168.61,-31.6) (168.61,-33.5) (168.63,-30.0) (168.63,-34.9) (168.65,-28.4) (168.65,-32.7) (168.67,-31.4) (168.67,-33.2) (168.69,-29.7) (168.69,-34.1) (168.71,-30.5) (168.71,-32.4) (168.73,-31.8) (168.73,-35.1) (168.75,-29.2) (168.75,-33.0) (168.77,-30.9) (168.77,-34.3) (168.79,-32.2) (168.79,-33.6) (168.81,-29.9) (168.81,-31.8) (168.83,-30.7) (168.83,-34.7) (168.85,-28.9) (168.85,-32.6) (168.87,-31.5) (168.87,-33.4) (168.89,-30.1) (168.89,-34.0) (168.91,-29.3) (168.91,-32.1) (168.93,-31.1) (168.93,-35.0) (168.95,-30.4) (168.95,-33.3) (168.97,-29.6) (168.97,-31.9) (168.99,-32.0) (168.99,-34.4) (169.01,-30.3) (169.01,-33.1) (169.03,-29.0) (169.03,-32.8) (169.05,-31.3) (169.05,-34.6) (169.07,-30.6) (169.07,-33.5) (169.09,-29.8) (169.09,-32.3) (169.11,-31.7) (169.11,-34.2) (169.13,-30.2) (169.13,-33.7) (169.15,-31.0) (169.15,-32.6) (169.17,-30.5) (169.17,-34.0)
(167.58,-31.8) (167.60,-33.6) (167.62,-30.2) (167.64,-32.5) (167.66,-29.8) (167.68,-33.9) (167.70,-31.0) (167.72,-34.6) (167.74,-30.6) (167.76,-32.9) (167.78,-31.6) (167.80,-33.9) (167.82,-29.9) (167.84,-32.6) (167.86,-34.5) (167.88,-31.2) (167.90,-33.3) (167.92,-30.4) (167.94,-32.9) (167.96,-34.2) (167.98,-30.9) (168.00,-32.1) (168.02,-34.8) (168.04,-30.5) (168.06,-33.1) (168.08,-31.4) (168.10,-34.0) (168.12,-30.1) (168.14,-32.7) (168.16,-34.6) (168.18,-31.6) (168.20,-33.3) (168.22,-30.3) (168.24,-32.9) (168.26,-34.3) (168.28,-30.9) (168.30,-33.6) (168.32,-31.4) (168.34,-32.6) (168.36,-34.2) (168.38,-30.6) (168.40,-32.9) (168.42,-34.7) (168.44,-31.2) (168.46,-33.0) (168.48,-30.4) (168.50,-32.9) (168.52,-34.2) (168.54,-30.9) (168.56,-33.1) (168.58,-31.6) (168.60,-34.0) (168.62,-30.1) (168.64,-32.5) (168.66,-34.6) (168.68,-31.3) (168.70,-33.4) (168.72,-30.4) (168.74,-32.2) (168.76,-34.8) (168.78,-31.6) (168.80,-33.0) (168.82,-30.6) (168.84,-32.9) (168.86,-34.3) (168.88,-31.2) (168.90,-33.5) (168.92,-30.2) (168.94,-32.5) (168.96,-34.1) (168.98,-31.0) (169.00,-33.1) (169.02,-31.8) (169.04,-34.3) (169.06,-30.1) (169.08,-32.6) (169.10,-34.5) (169.12,-31.3) (169.14,-33.6) (169.16,-30.8)
(167.585,-30.6) (167.605,-32.0) (167.625,-33.8) (167.645,-29.9) (167.665,-31.4) (167.685,-34.2) (167.705,-30.9) (167.725,-32.9)
(167.745,-30.3) (167.765,-31.7) (167.785,-33.5) (167.805,-29.6) (167.825,-31.1) (167.845,-33.9) (167.865,-30.6) (167.885,-32.6)
(167.905,-30.9) (167.925,-32.3) (167.945,-34.1) (167.965,-30.2) (167.985,-31.7) (168.005,-34.5) (168.025,-31.2) (168.045,-33.2)
(168.065,-30.1) (168.085,-31.5) (168.105,-33.3) (168.125,-29.4) (168.145,-30.9) (168.165,-33.7) (168.185,-30.4) (168.205,-32.4)
(168.225,-31.1) (168.245,-32.5) (168.265,-34.3) (168.285,-30.4) (168.305,-31.9) (168.325,-34.7) (168.345,-31.4) (168.365,-33.4)
(168.385,-30.4) (168.405,-31.8) (168.425,-33.6) (168.445,-29.7) (168.465,-31.2) (168.485,-34.0) (168.505,-30.7) (168.525,-32.7)
(168.545,-30.8) (168.565,-32.2) (168.585,-34.0) (168.605,-30.1) (168.625,-31.6) (168.645,-34.4) (168.665,-31.1) (168.685,-33.1)
(168.705,-30.2) (168.725,-31.6) (168.745,-33.4) (168.765,-29.5) (168.785,-31.0) (168.805,-33.8) (168.825,-30.5) (168.845,-32.5)
(168.865,-31.0) (168.885,-32.4) (168.905,-34.2) (168.925,-30.3) (168.945,-31.8) (168.965,-34.6) (168.985,-31.3) (169.005,-33.3)
(169.025,-30.6) (169.045,-32.0) (169.065,-33.8) (169.085,-29.9) (169.105,-31.4) (169.125,-34.2) (169.145,-30.9) (169.165,-32.9)
(167.80,-27.5) (167.95,-27.0) (168.05,-26.5) (168.20,-27.2) (168.40,-27.8) (168.47,-24.5) (168.52,-26.2) (168.56,-25.0) (168.62,-27.0) (168.78,-26.8) (168.86,-27.3) (169.00,-26.7) (169.10,-27.6) (169.16,-28.5) (169.12,-26.0)
(168.080,-39.5) (168.281,-47.2) (168.596,-42.1) (168.942,-42.1) (169.007,-41.8)
};
% cluster J (winter 2023-24)
\addplot[zp, forget plot] coordinates {
(169.443,10.6) (169.483,10.9) (169.547,10.3) (169.483,7.2) (169.491,6.8) (169.467,5.6) (169.507,5.6) (169.539,6.4) (169.451,5.3) (169.523,5.0) (169.531,4.2) (169.564,3.7) (169.612,5.5) (169.588,3.2) (169.572,2.9) (169.612,2.6) (169.652,1.9) (169.459,3.1) (169.523,1.3) (169.572,1.3) (169.483,0.2) (169.443,0.2) (169.588,0.2) (169.475,-1.4) (169.612,-0.1) (169.628,-0.8) (169.668,-1.1) (169.693,-0.6) (169.733,-0.5) (169.547,-2.4) (169.604,-2.1) (169.652,-1.9) (169.709,-1.8) (169.564,-3.2) (169.652,-3.1) (169.693,-3.2) (169.765,-2.9) (169.749,-3.7) (169.451,-4.8) (169.491,-5.1) (169.564,-5.1) (169.660,-4.8) (169.701,-4.8) (169.467,-5.9) (169.547,-6.1) (169.846,-3.9) (169.926,-3.2) (169.854,-6.1) (169.910,-8.7) (169.846,-8.7) (169.870,-9.5) (169.564,-7.2) (169.580,-7.8) (169.612,-8.3) (169.483,-8.7) (169.644,-9.8) (169.733,-10.0) (169.652,-11.6) (169.693,-12.5) (169.628,-12.8) (169.588,-13.5) (169.572,-14.5) (169.628,-15.3) (169.604,-16.9) (169.547,-17.7) (169.467,-17.7) (169.531,-18.5) (169.483,-19.0) (169.644,-17.2) (169.709,-16.9) (169.733,-18.3) (169.789,-17.5) (169.830,-15.9) (169.814,-14.0) (169.886,-15.1) (169.870,-17.5) (169.926,-17.5) (169.910,-19.1) (169.967,-18.5) (169.443,-20.6) (169.572,-21.5) (169.523,-23.3) (169.644,-20.9) (169.564,-23.6) (169.612,-24.6) (169.652,-25.2) (169.507,-25.2) (169.483,-24.1)
(169.902,7.7) (169.926,6.1) (169.878,5.5) (170.007,4.2) (170.080,4.0) (169.934,3.1) (169.967,-0.5) (170.015,-1.0) (170.080,0.3) (169.854,-3.5) (169.918,-3.4) (169.991,-4.8) (170.007,-6.3) (169.959,-6.8) (169.846,-6.3) (169.854,-7.2) (169.886,-8.4) (169.894,-9.6) (169.934,-10.4) (169.983,-12.0) (169.991,-12.7) (169.894,-12.4) (169.910,-13.5) (169.967,-13.5) (169.934,-14.3) (169.991,-15.1) (169.870,-15.1) (170.096,-9.5) (170.193,-10.8) (170.096,-12.9) (170.080,-14.8) (170.153,-14.3) (170.233,-14.8) (170.305,-14.0) (170.257,-0.8) (170.281,-2.0) (170.241,-2.4) (170.297,-3.5) (170.177,-4.5) (170.209,-3.9) (170.314,-5.6) (170.370,-7.2) (170.370,-5.6) (170.499,-10.4) (170.491,-12.7) (170.539,-12.4) (170.580,-13.7) (170.515,-13.7) (170.644,-12.0) (170.717,-12.7) (170.685,-13.7) (170.757,-13.2) (170.814,-13.7) (170.854,-13.5) (170.314,-0.8) (170.459,-0.6) (170.483,-3.2) (170.515,-4.6) (170.572,-3.9) (170.620,-3.2) (170.693,-1.4) (170.693,-0.3) (170.741,-1.1) (170.781,-1.9) (170.757,-3.5) (170.797,-5.1) (170.854,-4.6) (170.862,-3.0) (170.902,-4.3) (170.942,-3.5) (170.975,-4.8) (171.023,-3.9) (171.063,-3.0) (171.120,-3.5) (171.144,-5.4) (171.136,-7.9) (171.177,-7.2) (171.225,-6.3) (171.281,-5.6) (171.039,-7.9) (170.999,-8.4) (170.959,-9.5) (170.918,-7.2) (170.878,-9.2) (170.838,-8.8) (170.814,-11.1) (170.878,-11.1) (170.934,-11.2) (170.975,-10.3) (171.023,-11.1) (171.063,-10.0) (171.201,-8.7) (171.257,-9.5) (171.096,-12.0) (171.039,-13.5) (171.144,-13.0) (171.225,-13.0) (171.063,-14.6) (171.120,-15.1) (171.225,-14.6)
(170.854,13.7) (170.918,13.9) (170.983,13.7) (171.136,13.7) (171.177,12.9) (171.265,13.0) (171.281,13.9) (171.362,14.1) (170.918,11.7) (170.959,11.4) (171.096,12.0) (171.144,11.7) (171.201,10.4) (171.241,10.6) (171.281,9.6) (171.362,10.4) (171.443,10.4) (171.338,9.3) (171.055,9.3) (171.096,8.8) (171.136,9.0) (171.185,8.0) (170.999,7.7) (171.063,7.7) (171.120,7.2) (171.177,7.4) (171.217,7.2) (171.378,7.7) (170.580,10.0) (170.668,8.2) (170.580,6.6) (170.459,6.4) (170.822,6.1) (170.894,6.1) (170.910,7.7) (170.983,5.9) (171.055,5.6) (171.144,5.6) (170.741,4.2) (170.781,2.9) (170.902,3.7) (170.975,3.4) (171.023,2.6) (171.177,3.7) (171.201,4.0) (171.265,2.4) (171.144,2.6) (171.217,1.8) (171.338,0.0) (171.346,0.0) (170.910,1.3) (170.983,1.0) (171.039,1.3) (171.080,0.2) (171.104,0.8) (170.959,0.0) (170.878,-0.8) (171.241,1.6)
(171.386,33.1) (171.418,32.9) (171.378,31.3) (171.418,31.3) (171.443,30.7) (171.354,30.2) (171.402,30.2) (171.418,29.1) (171.289,30.7) (171.257,28.4) (171.426,27.8) (171.386,25.9) (171.443,23.5) (171.241,24.9) (171.201,23.8) (171.241,24.1) (171.281,23.3) (171.217,22.8) (171.161,22.8) (171.225,22.0) (171.265,21.7) (171.201,22.2) (171.273,20.6) (171.378,21.7) (171.443,19.4) (171.225,18.8) (171.257,17.7) (171.257,16.2) (171.354,18.2) (171.144,22.3) (171.104,22.5) (171.039,22.3) (171.080,21.7) (171.047,20.2) (171.120,20.6) (170.959,18.2) (171.023,18.7) (171.055,17.3) (171.120,17.0) (171.185,18.2) (171.225,15.4) (171.289,14.6) (171.281,13.8) (171.104,15.4) (171.185,13.3) (171.144,12.9) (170.878,14.1) (170.934,14.1) (170.983,14.1) (171.161,13.3) (170.741,15.9) (171.080,12.9)
(169.451,-24.9) (169.483,-26.5) (169.451,-28.8) (169.443,-30.9) (169.467,-32.5) (169.451,-34.5) (169.507,-31.3) (169.531,-29.7) (169.564,-28.1) (169.564,-32.9) (169.612,-27.1) (169.628,-30.4) (169.604,-34.0) (169.660,-34.0) (169.652,-29.2) (169.709,-25.5) (169.749,-27.1) (169.749,-29.7) (169.733,-32.4) (169.773,-28.4) (169.830,-27.6) (169.846,-32.4) (169.886,-32.8) (169.910,-27.3) (169.934,-30.0) (169.975,-31.2) (169.991,-26.5) (170.048,-30.8) (170.096,-29.7) (170.169,-29.7) (170.209,-27.6) (170.257,-29.2) (170.314,-30.8) (170.370,-28.1) (170.419,-26.5) (170.475,-29.2) (170.531,-28.1) (170.580,-30.5) (170.636,-26.5) (170.693,-29.2) (170.741,-27.6) (170.773,-30.8) (170.814,-28.4) (170.854,-31.2) (170.894,-32.4) (170.942,-33.7) (170.983,-31.3) (171.023,-32.4) (171.063,-32.9) (171.104,-34.0) (171.144,-32.8) (171.217,-35.3) (171.201,-33.6) (171.257,-34.0) (171.281,-32.4) (171.346,-31.2) (171.362,-34.0) (171.402,-31.9) (171.443,-30.5) (171.426,-33.7) (171.338,-28.4) (171.386,-29.7) (171.177,-29.4) (171.257,-29.6) (171.120,-29.7) (170.959,-27.0)
(169.499,-38.9) (169.572,-40.6) (169.612,-44.8) (170.926,-41.6) (171.249,-41.6)
(169.46,-26.8) (169.47,-29.6) (169.48,-33.2) (169.50,-27.9) (169.51,-30.2) (169.52,-33.6) (169.54,-26.2) (169.55,-31.8) (169.57,-35.0) (169.58,-30.9) (169.59,-26.9) (169.62,-32.1) (169.64,-28.0) (169.66,-31.4) (169.68,-26.6) (169.70,-30.3) (169.72,-33.2) (169.76,-30.9) (169.79,-25.3) (169.81,-30.1) (169.44,-27.5) (169.53,-22.5) (169.60,-21.0) (169.69,-22.8) (169.77,-21.8)
(169.83,-19.5) (169.83,-23.0) (169.84,-26.4) (169.82,-29.3)
(169.86,-17.2) (169.87,-21.1) (169.85,-24.8) (169.86,-28.0) (169.87,-30.5)
(169.89,-18.8) (169.90,-22.4) (169.88,-25.9) (169.89,-27.4)
(169.92,-16.5) (169.93,-20.3) (169.91,-23.7) (169.92,-26.9) (169.93,-29.8)
(169.95,-19.1) (169.96,-22.0) (169.94,-25.2) (169.95,-28.5)
(169.98,-17.6) (169.99,-21.5) (169.97,-24.3) (169.98,-27.1) (169.99,-30.2)
(170.01,-16.2) (170.02,-19.8) (170.00,-23.1) (170.01,-26.0) (170.02,-28.8)
(170.04,-18.1) (170.05,-22.7) (170.03,-25.5) (170.04,-27.9) (170.05,-31.0)
(170.07,-17.0) (170.08,-20.6) (170.06,-24.0) (170.07,-26.7) (170.08,-29.5)
(170.10,-19.4) (170.11,-22.9) (170.09,-25.0) (170.10,-28.2) (170.11,-30.8)
(170.13,-16.8) (170.14,-21.2) (170.12,-23.9) (170.13,-27.6) (170.14,-29.2)
(170.16,-18.3) (170.17,-20.1) (170.15,-24.7) (170.16,-26.3) (170.17,-30.0)
(170.19,-17.4) (170.20,-21.8) (170.18,-25.8) (170.19,-28.7)
(170.22,-16.1) (170.23,-19.6) (170.21,-23.4) (170.22,-27.0) (170.23,-30.4)
(170.25,-18.7) (170.26,-22.2) (170.24,-24.4) (170.25,-26.6) (170.26,-28.9)
(170.28,-17.1) (170.29,-20.9) (170.27,-25.3) (170.28,-27.7) (170.29,-31.1)
(170.31,-19.0) (170.32,-22.6) (170.30,-24.1) (170.31,-28.4) (170.32,-30.0)
(170.34,-16.6) (170.35,-20.4) (170.33,-23.3) (170.34,-26.2) (170.35,-29.1)
(170.37,-18.2) (170.38,-21.7) (170.36,-25.6) (170.37,-27.3) (170.38,-30.6)
(170.40,-17.5) (170.41,-19.9) (170.39,-23.8) (170.40,-26.8) (170.41,-28.6)
(170.43,-16.9) (170.44,-21.0) (170.42,-24.6) (170.43,-27.8) (170.44,-30.3)
(170.46,-18.6) (170.47,-22.3) (170.45,-25.1) (170.46,-28.0)
(170.49,-17.3) (170.50,-20.7) (170.48,-23.0) (170.49,-26.5) (170.50,-29.4)
(170.52,-19.3) (170.53,-22.8) (170.51,-25.4) (170.52,-27.5) (170.53,-30.9)
(170.55,-16.4) (170.56,-20.2) (170.54,-24.2) (170.55,-26.4) (170.56,-28.3)
(170.58,-18.0) (170.59,-21.4) (170.57,-23.6) (170.58,-27.2) (170.59,-29.9)
(170.61,-17.7) (170.62,-20.0) (170.60,-24.9) (170.61,-26.1) (170.62,-28.8)
(170.64,-15.9) (170.65,-19.7) (170.63,-22.5) (170.64,-25.7) (170.65,-30.1)
(170.67,-18.4) (170.68,-21.9) (170.66,-24.5) (170.67,-27.0) (170.68,-29.0)
(170.70,-17.0) (170.71,-20.5) (170.69,-23.2) (170.70,-26.9) (170.71,-28.5)
(170.73,-16.3) (170.74,-19.2) (170.72,-22.1) (170.73,-25.9) (170.74,-29.6)
(170.76,-18.9) (170.77,-21.6) (170.75,-24.0) (170.76,-27.3) (170.77,-30.2)
(170.79,-17.8) (170.80,-20.8) (170.78,-23.7) (170.79,-26.0) (170.80,-28.2)
(170.82,-21.5) (170.83,-25.3) (170.81,-28.4) (170.82,-31.0)
(170.85,-19.8) (170.86,-24.1) (170.84,-27.2) (170.85,-29.6) (170.86,-32.3)
(170.88,-22.9) (170.89,-26.0) (170.87,-28.9) (170.88,-30.7)
(170.91,-20.6) (170.92,-24.7) (170.90,-27.6) (170.91,-29.9) (170.92,-33.2)
(170.94,-23.3) (170.95,-25.8) (170.93,-28.1) (170.94,-31.5)
(170.97,-21.8) (170.98,-26.4) (170.96,-29.3) (170.97,-32.0)
(171.00,-20.2) (171.01,-24.4) (170.99,-27.0) (171.00,-30.4) (171.01,-33.5)
(171.03,-22.5) (171.04,-25.6) (171.02,-28.6) (171.03,-31.2)
(171.06,-23.8) (171.07,-26.9) (171.05,-29.0) (171.06,-33.9)
(171.09,-21.1) (171.10,-25.0) (171.08,-27.8) (171.09,-30.8)
(171.12,-24.4) (171.13,-26.5) (171.11,-28.3) (171.12,-32.6)
(171.15,-22.0) (171.16,-25.9) (171.14,-30.2) (171.15,-34.5)
(171.18,-23.6) (171.19,-27.4) (171.17,-31.0) (171.18,-33.1)
(171.21,-21.4) (171.22,-26.2) (171.20,-28.8) (171.21,-31.8)
(171.24,-24.8) (171.25,-27.1) (171.23,-30.0) (171.24,-33.8)
(171.27,-22.7) (171.28,-26.7) (171.26,-29.2) (171.27,-32.2)
(171.30,-25.2) (171.31,-28.0) (171.29,-30.6) (171.30,-34.2)
(171.33,-23.0) (171.34,-27.6) (171.32,-31.4) (171.33,-33.0)
(171.36,-25.7) (171.37,-28.9) (171.35,-32.5)
(171.39,-24.0) (171.40,-27.3) (171.38,-30.1) (171.39,-33.4)
(171.42,-26.1) (171.43,-29.5) (171.41,-32.9)
(171.44,-25.4) (171.44,-28.2) (171.44,-31.7)
(169.45,-31.8) (169.49,-29.0) (169.53,-27.0) (169.56,-33.0) (169.60,-29.2) (169.63,-26.0) (169.67,-33.3) (169.71,-28.4) (169.74,-26.4) (169.78,-31.8) (169.82,-27.8) (169.85,-30.8) (169.88,-28.9) (169.91,-31.3) (169.94,-26.6) (169.97,-29.0) (170.00,-27.8) (170.03,-29.9) (170.06,-22.0) (170.09,-27.3) (170.12,-25.5) (170.15,-28.4) (170.18,-23.0) (170.21,-25.9) (170.24,-29.5) (170.27,-23.5) (170.30,-26.7) (170.33,-28.1) (170.36,-22.9) (170.39,-25.2) (170.42,-29.1) (170.45,-23.7) (170.48,-27.3) (170.51,-21.6) (170.54,-25.8) (170.57,-28.8) (170.60,-22.9) (170.63,-27.4) (170.66,-25.9) (170.69,-21.6) (170.72,-27.9) (170.75,-25.3) (170.78,-29.2) (170.81,-26.0) (170.84,-30.5) (170.87,-27.3) (170.90,-29.0) (170.93,-26.5) (170.96,-30.5) (170.99,-28.7) (171.02,-26.6) (171.05,-31.4) (171.08,-29.2) (171.11,-27.0) (171.14,-31.6) (171.17,-28.6) (171.20,-27.0) (171.23,-31.5) (171.26,-28.0) (171.29,-27.5) (171.32,-29.9) (171.35,-27.3) (171.38,-32.0) (171.41,-28.0) (171.43,-30.0)
};
% fitted seasonal curve
\addplot[blue, line width=2.6pt, smooth, forget plot] coordinates {
(162.285,4.70) (162.551,2.31) (162.817,-4.23) (163.083,-13.15) (163.348,-22.08) (163.614,-28.61) (163.880,-31.00) (164.146,-28.61) (164.412,-22.08) (164.678,-13.15) (164.943,-4.23) (165.209,2.31) (165.475,4.70) (165.741,2.31) (166.007,-4.23) (166.272,-13.15) (166.538,-22.08) (166.804,-28.61) (167.070,-31.00) (167.336,-28.61) (167.602,-22.08) (167.867,-13.15) (168.133,-4.23) (168.399,2.31) (168.665,4.70) (168.931,2.31) (169.197,-4.23) (169.462,-13.15) (169.728,-22.08) (169.994,-28.61) (170.260,-31.00) (170.526,-28.61) (170.792,-22.08) (171.057,-13.15) (171.323,-4.23) (171.589,2.31)
};
\end{axis}
\pgfresetboundingbox
\path ([shift={(-56pt,-88pt)}]sw) rectangle ([shift={(1pt,25pt)}]ne);
\end{tikzpicture}
\end{document}
